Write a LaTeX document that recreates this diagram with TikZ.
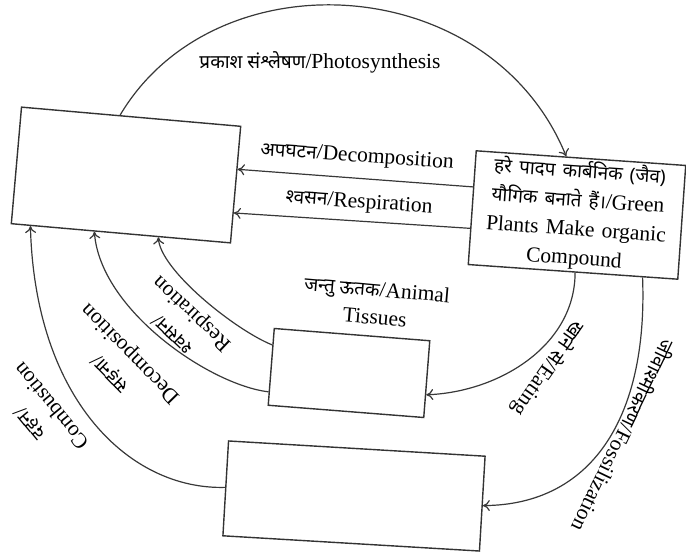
\documentclass[tikz,border=0pt]{standalone}
\usepackage{fontspec}
\setmainfont{Liberation Serif}
\newfontfamily\dev[Script=Devanagari,Scale=0.88]{Noto Sans}
\usetikzlibrary{arrows.meta,calc}
\begin{document}
\begin{tikzpicture}[x=1pt,y=-1pt,
  box/.style={draw=black!80, line width=1.4pt, rectangle, inner sep=0pt},
  conn/.style={draw=black!78, line width=1.2pt, -{To[length=7pt,width=11pt]}},
  lbl/.style={font=\fontsize{21.5}{28}\selectfont, align=center, inner sep=0pt},
]
\useasboundingbox (0,0) rectangle (686,556);
% boxes
\node[box, rotate=-5, minimum width=220pt, minimum height=117pt] (L) at (126,175) {};
\node[box, rotate=-4, minimum width=210pt, minimum height=114pt, text width=205pt, align=center,
  font=\fontsize{21.5}{29}\selectfont] (R) at (577,215)
  {{\dev हरे पादप कार्बनिक (जैव)}\\{\dev यौगिक बनाते हैं।}/Green\\Plants Make organic\\Compound};
\node[box, rotate=-4.5, minimum width=156pt, minimum height=77pt] (A) at (349,373) {};
\node[box, rotate=-3.4, minimum width=257pt, minimum height=95pt] (B) at (354,496) {};
% edge points
\coordinate (Ltop) at ($(L.north west)!0.45!(L.north east)$);
\coordinate (Rtop) at ($(R.north west)!0.43!(R.north east)$);
\coordinate (Rl1) at ($(R.north west)!0.32!(R.south west)$);
\coordinate (Rl2) at ($(R.north west)!0.68!(R.south west)$);
\coordinate (Lr1) at ($(L.north east)!0.37!(L.south east)$);
\coordinate (Lr2) at ($(L.north east)!0.74!(L.south east)$);
\coordinate (Lb1) at ($(L.south west)!0.09!(L.south east)$);
\coordinate (Lb2) at ($(L.south west)!0.38!(L.south east)$);
\coordinate (Lb3) at ($(L.south west)!0.67!(L.south east)$);
\coordinate (Al1) at ($(A.north west)!0.22!(A.south west)$);
\coordinate (Al2) at ($(A.north west)!0.82!(A.south west)$);
\coordinate (Ar) at ($(A.north east)!0.7!(A.south east)$);
\coordinate (Bl) at ($(B.north west)!0.49!(B.south west)$);
\coordinate (Br) at ($(B.north east)!0.52!(B.south east)$);
\coordinate (Rb1) at ($(R.south west)!0.51!(R.south east)$);
\coordinate (Rb2) at ($(R.south west)!0.83!(R.south east)$);
% connectors
\draw[conn] (Ltop) .. controls (215,-45) and (490,-30) .. (Rtop);
\draw[conn] (Rl1) -- (Lr1);
\draw[conn] (Rl2) -- (Lr2);
\draw[conn] (Al1) .. controls (235,330) and (160,270) .. (Lb3);
\draw[conn] (Al2) .. controls (210,385) and (100,310) .. (Lb2);
\draw[conn] (Bl) .. controls (130,490) and (35,400) .. (Lb1);
\draw[conn] (Rb1) .. controls (575,345) and (500,392) .. (Ar);
\draw[conn] (Rb2) .. controls (648,420) and (590,505) .. (Br);
% labels
\node[lbl] (tPh) at (320,62) {{\dev प्रकाश संश्लेषण}/Photosynthesis};
\node[lbl, rotate=-4] (tDe) at (357,157) {{\dev अपघटन}/Decomposition};
\node[lbl, rotate=-4] (tRe) at (359,203) {{\dev श्वसन}/Respiration};
\node[lbl, rotate=-5] (tAn) at (376,303) {{\dev जन्तु ऊतक}/Animal\\Tissues};
\node[lbl, rotate=-125] (tEa) at (548,368) {{\dev खाने से}/Eating};
\node[lbl, rotate=-115.8] (tFo) at (624,436) {{\dev जीवाश्मीकरण}/Fossilization};
\node[lbl, rotate=136.7] (tRl) at (183,323) {{\dev श्वसन}/\\Respiration};
\node[lbl, rotate=134.4] (tDl) at (121,363) {{\dev सड़ना}/\\Decomposition};
\node[lbl, rotate=129.5] (tCl) at (40,415) {{\dev दहन}/\\Combustion};
\end{tikzpicture}
\end{document}
